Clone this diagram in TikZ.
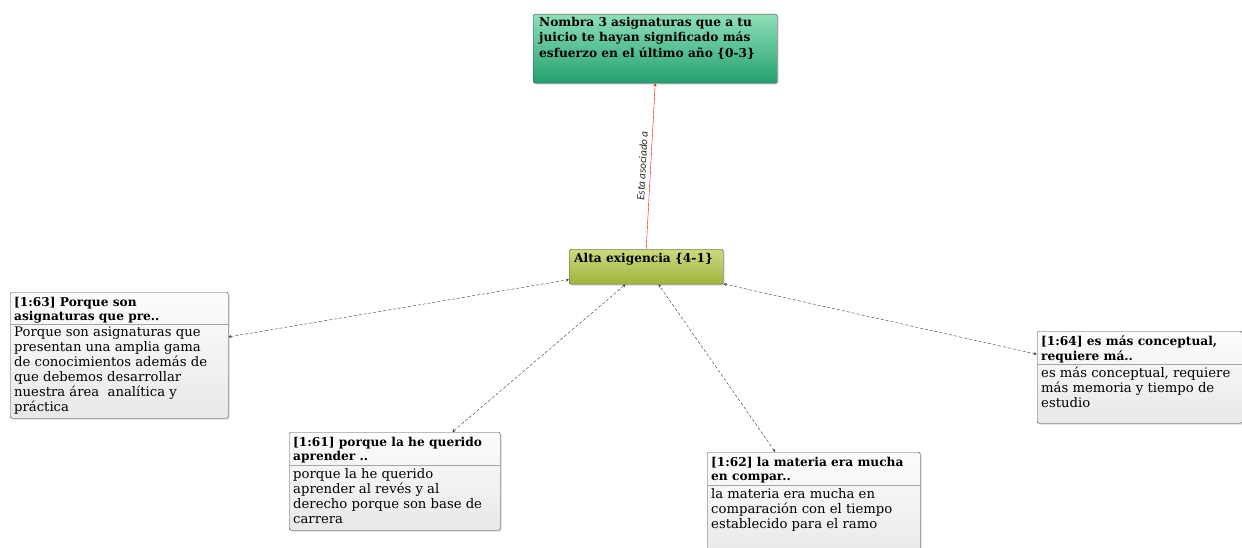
\documentclass[tikz,border=0pt]{standalone}
\usepackage{fontspec}
\setmainfont{DejaVu Serif}
\newfontfamily\etiq{Carlito}
\usepackage{xcolor}
\usetikzlibrary{positioning,shadows,arrows}
\tikzset{>=stealth}
\definecolor{verdeA}{HTML}{8FDFB8}
\definecolor{verdeB}{HTML}{22A170}
\definecolor{olivaA}{HTML}{CCDA7E}
\definecolor{olivaB}{HTML}{9FB43C}
\definecolor{borde}{HTML}{4A4A4A}
\tikzset{
  caja/.style={draw=borde,rounded corners=1.5pt,anchor=north west,
    top color=gray!2,bottom color=gray!18,
    drop shadow={opacity=0.3,shadow xshift=1.5pt,shadow yshift=-1.5pt}},
  codigo/.style={caja,top color=verdeA,bottom color=verdeB},
  categoria/.style={caja,top color=olivaA,bottom color=olivaB},
  negrita/.style={font=\fontsize{12.2}{15.5}\selectfont\bfseries,align=left,inner sep=0pt,anchor=north west},
  cabecera/.style={font=\fontsize{12.2}{14.5}\selectfont\bfseries,align=left,inner xsep=4pt,inner ysep=5pt,anchor=north west},
  cuerpo/.style={font=\fontsize{13.2}{15}\selectfont,align=left,inner xsep=4pt,inner ysep=3pt,anchor=north west},
  separa/.style={draw=gray!70,line width=0.6pt},
  enlace/.style={<->,densely dashed,thin,black!80},
  asociado/.style={->,red,thin}
}
\begin{document}
\begin{tikzpicture}[x=1pt,y=-1pt]
\useasboundingbox (0,0) rectangle (1242,548);

% codigo y categoria
\node[codigo,minimum width=244pt,minimum height=69pt] (pregunta) at (533,14) {};
\node[negrita,below right=3pt and 6pt of pregunta.north west] (preguntat) {Nombra 3 asignaturas que a tu\\juicio te hayan significado más\\esfuerzo en el último año \{0-3\}};
\node[categoria,minimum width=154pt,minimum height=35pt] (alta) at (569,249) {};
\node[negrita,below right=4pt and 5pt of alta.north west] (altat) {Alta exigencia \{4-1\}};

% citas
\node[caja,minimum width=218pt,minimum height=126pt] (q63) at (10,292) {};
\node[cabecera] (q63h) at (q63.north west) {[1:63] Porque son\\asignaturas que pre..};
\draw[separa] ([yshift=-32pt]q63.north west) -- ([yshift=-32pt]q63.north east);
\node[cuerpo] (q63b) at ([yshift=-32pt]q63.north west) {Porque son asignaturas que\\presentan una amplia gama\\de conocimientos además de\\que debemos desarrollar\\nuestra área\ \ analítica y\\práctica};

\node[caja,minimum width=211pt,minimum height=98pt] (q61) at (289,432) {};
\node[cabecera] (q61h) at (q61.north west) {[1:61] porque la he querido\\aprender ..};
\draw[separa] ([yshift=-33pt]q61.north west) -- ([yshift=-33pt]q61.north east);
\node[cuerpo] (q61b) at ([yshift=-33pt]q61.north west) {porque la he querido\\aprender al revés y al\\derecho porque son base de\\carrera};

\node[caja,minimum width=213pt,minimum height=110pt] (q62) at (707,452) {};
\node[cabecera] (q62h) at (q62.north west) {[1:62] la materia era mucha\\en compar..};
\draw[separa] ([yshift=-33pt]q62.north west) -- ([yshift=-33pt]q62.north east);
\node[cuerpo] (q62b) at ([yshift=-33pt]q62.north west) {la materia era mucha en\\comparación con el tiempo\\establecido para el ramo};

\node[caja,minimum width=205pt,minimum height=92pt] (q64) at (1037,331) {};
\node[cabecera] (q64h) at (q64.north west) {[1:64] es más conceptual,\\requiere má..};
\draw[separa] ([yshift=-33pt]q64.north west) -- ([yshift=-33pt]q64.north east);
\node[cuerpo] (q64b) at ([yshift=-33pt]q64.north west) {es más conceptual, requiere\\más memoria y tiempo de\\estudio};

% relaciones
\draw[asociado] (alta.north) -- (pregunta.south)
  node[midway,sloped,above=1pt,font=\etiq\itshape\fontsize{11}{12}\selectfont,text=black!85] {Esta asociado a};
\draw[enlace] (q63) -- (alta);
\draw[enlace] (q61) -- (alta);
\draw[enlace] (q62) -- (alta);
\draw[enlace] (q64) -- (alta);
\end{tikzpicture}
\end{document}
